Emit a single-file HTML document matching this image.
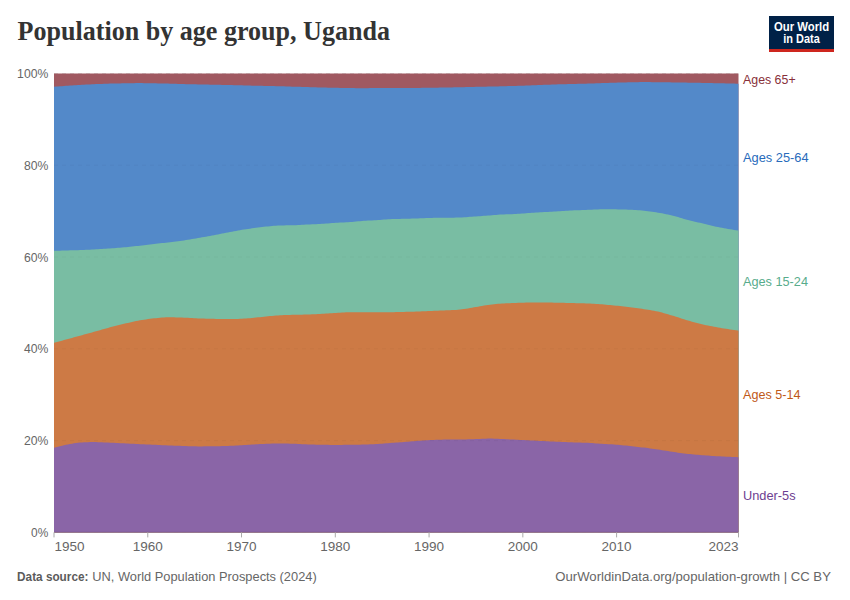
<!DOCTYPE html>
<html><head><meta charset="utf-8">
<style>
html,body{margin:0;padding:0;background:#fff;width:850px;height:600px;overflow:hidden}
svg{display:block}
</style></head><body>
<svg width="850" height="600" viewBox="0 0 850 600" font-family="Liberation Sans, sans-serif">
<rect width="850" height="600" fill="#fff"/>
<text x="17.5" y="39.9" font-family="Liberation Serif, serif" font-weight="bold" font-size="27.8" fill="#333" textLength="372.5" lengthAdjust="spacingAndGlyphs">Population by age group, Uganda</text>
<rect x="769" y="16" width="65" height="36" fill="#002147"/>
<rect x="769" y="49" width="65" height="3" fill="#CE261E"/>
<text x="774" y="30.7" font-size="12" font-weight="bold" fill="#fff" textLength="55.2" lengthAdjust="spacingAndGlyphs">Our World</text>
<text x="783.3" y="42.7" font-size="12" font-weight="bold" fill="#fff" textLength="36.5" lengthAdjust="spacingAndGlyphs">in Data</text>
<line x1="54.0" x2="738.5" y1="532.40" y2="532.40" stroke="#ddd" stroke-dasharray="4,4" stroke-width="1"/>
<line x1="54.0" x2="738.5" y1="440.62" y2="440.62" stroke="#ddd" stroke-dasharray="4,4" stroke-width="1"/>
<line x1="54.0" x2="738.5" y1="348.84" y2="348.84" stroke="#ddd" stroke-dasharray="4,4" stroke-width="1"/>
<line x1="54.0" x2="738.5" y1="257.06" y2="257.06" stroke="#ddd" stroke-dasharray="4,4" stroke-width="1"/>
<line x1="54.0" x2="738.5" y1="165.28" y2="165.28" stroke="#ddd" stroke-dasharray="4,4" stroke-width="1"/>
<line x1="54.0" x2="738.5" y1="73.50" y2="73.50" stroke="#ddd" stroke-dasharray="4,4" stroke-width="1"/>
<path d="M54.0,73.50 L738.5,73.50 L738.5,532.40 L54.0,532.40 Z" fill="#a05961"/>
<path d="M54.0,86.70 L56.0,86.56 L58.0,86.41 L60.0,86.27 L62.0,86.13 L64.0,85.98 L66.0,85.84 L68.0,85.71 L70.0,85.57 L72.0,85.44 L74.0,85.31 L76.0,85.18 L78.0,85.05 L80.0,84.93 L82.0,84.81 L84.0,84.70 L86.0,84.59 L88.0,84.49 L90.0,84.39 L92.0,84.30 L94.0,84.20 L96.0,84.12 L98.0,84.03 L100.0,83.95 L102.0,83.88 L104.0,83.81 L106.0,83.74 L108.0,83.67 L110.0,83.61 L112.0,83.56 L114.0,83.51 L116.0,83.46 L118.0,83.42 L120.0,83.38 L122.0,83.35 L124.0,83.31 L126.0,83.27 L128.0,83.24 L130.0,83.20 L132.0,83.16 L134.0,83.13 L136.0,83.11 L138.0,83.10 L140.0,83.10 L142.0,83.12 L144.0,83.14 L146.0,83.17 L148.0,83.21 L150.0,83.25 L152.0,83.28 L154.0,83.32 L156.0,83.36 L158.0,83.39 L160.0,83.43 L162.0,83.47 L164.0,83.51 L166.0,83.56 L168.0,83.60 L170.0,83.65 L172.0,83.70 L174.0,83.76 L176.0,83.82 L178.0,83.90 L180.0,83.97 L182.0,84.04 L184.0,84.10 L186.0,84.15 L188.0,84.19 L190.0,84.24 L192.0,84.28 L194.0,84.32 L196.0,84.35 L198.0,84.40 L200.0,84.44 L202.0,84.48 L204.0,84.52 L206.0,84.56 L208.0,84.61 L210.0,84.65 L212.0,84.69 L214.0,84.73 L216.0,84.78 L218.0,84.82 L220.0,84.86 L222.0,84.90 L224.0,84.95 L226.0,84.99 L228.0,85.03 L230.0,85.07 L232.0,85.11 L234.0,85.15 L236.0,85.19 L238.0,85.24 L240.0,85.29 L242.0,85.34 L244.0,85.39 L246.0,85.45 L248.0,85.51 L250.0,85.57 L252.0,85.63 L254.0,85.68 L256.0,85.73 L258.0,85.78 L260.0,85.82 L262.0,85.86 L264.0,85.90 L266.0,85.94 L268.0,85.98 L270.0,86.03 L272.0,86.07 L274.0,86.12 L276.0,86.17 L278.0,86.22 L280.0,86.27 L282.0,86.32 L284.0,86.37 L286.0,86.43 L288.0,86.49 L290.0,86.56 L292.0,86.63 L294.0,86.70 L296.0,86.76 L298.0,86.81 L300.0,86.87 L302.0,86.93 L304.0,86.98 L306.0,87.04 L308.0,87.09 L310.0,87.15 L312.0,87.21 L314.0,87.27 L316.0,87.33 L318.0,87.38 L320.0,87.44 L322.0,87.49 L324.0,87.54 L326.0,87.58 L328.0,87.63 L330.0,87.67 L332.0,87.71 L334.0,87.75 L336.0,87.79 L338.0,87.83 L340.0,87.88 L342.0,87.94 L344.0,87.99 L346.0,88.03 L348.0,88.07 L350.0,88.10 L352.0,88.11 L354.0,88.12 L356.0,88.13 L358.0,88.13 L360.0,88.13 L362.0,88.13 L364.0,88.13 L366.0,88.13 L368.0,88.13 L370.0,88.12 L372.0,88.12 L374.0,88.11 L376.0,88.11 L378.0,88.10 L380.0,88.10 L382.0,88.09 L384.0,88.08 L386.0,88.08 L388.0,88.07 L390.0,88.06 L392.0,88.04 L394.0,88.03 L396.0,88.02 L398.0,88.01 L400.0,88.00 L402.0,87.99 L404.0,87.98 L406.0,87.98 L408.0,87.97 L410.0,87.96 L412.0,87.95 L414.0,87.94 L416.0,87.92 L418.0,87.90 L420.0,87.88 L422.0,87.86 L424.0,87.83 L426.0,87.81 L428.0,87.78 L430.0,87.76 L432.0,87.73 L434.0,87.70 L436.0,87.67 L438.0,87.64 L440.0,87.61 L442.0,87.58 L444.0,87.54 L446.0,87.51 L448.0,87.47 L450.0,87.44 L452.0,87.40 L454.0,87.36 L456.0,87.31 L458.0,87.27 L460.0,87.23 L462.0,87.19 L464.0,87.14 L466.0,87.10 L468.0,87.05 L470.0,87.01 L472.0,86.96 L474.0,86.92 L476.0,86.87 L478.0,86.83 L480.0,86.78 L482.0,86.74 L484.0,86.70 L486.0,86.65 L488.0,86.61 L490.0,86.56 L492.0,86.52 L494.0,86.47 L496.0,86.42 L498.0,86.38 L500.0,86.33 L502.0,86.28 L504.0,86.23 L506.0,86.17 L508.0,86.12 L510.0,86.07 L512.0,86.01 L514.0,85.95 L516.0,85.89 L518.0,85.83 L520.0,85.77 L522.0,85.71 L524.0,85.64 L526.0,85.58 L528.0,85.51 L530.0,85.44 L532.0,85.36 L534.0,85.28 L536.0,85.20 L538.0,85.12 L540.0,85.04 L542.0,84.95 L544.0,84.87 L546.0,84.79 L548.0,84.71 L550.0,84.63 L552.0,84.55 L554.0,84.48 L556.0,84.42 L558.0,84.35 L560.0,84.30 L562.0,84.24 L564.0,84.19 L566.0,84.14 L568.0,84.10 L570.0,84.05 L572.0,84.01 L574.0,83.97 L576.0,83.92 L578.0,83.87 L580.0,83.83 L582.0,83.77 L584.0,83.72 L586.0,83.66 L588.0,83.60 L590.0,83.54 L592.0,83.47 L594.0,83.40 L596.0,83.33 L598.0,83.26 L600.0,83.19 L602.0,83.12 L604.0,83.05 L606.0,82.98 L608.0,82.92 L610.0,82.85 L612.0,82.79 L614.0,82.73 L616.0,82.67 L618.0,82.61 L620.0,82.55 L622.0,82.49 L624.0,82.44 L626.0,82.38 L628.0,82.32 L630.0,82.27 L632.0,82.23 L634.0,82.19 L636.0,82.15 L638.0,82.13 L640.0,82.11 L642.0,82.10 L644.0,82.09 L646.0,82.09 L648.0,82.10 L650.0,82.11 L652.0,82.13 L654.0,82.15 L656.0,82.17 L658.0,82.20 L660.0,82.23 L662.0,82.25 L664.0,82.28 L666.0,82.31 L668.0,82.34 L670.0,82.37 L672.0,82.40 L674.0,82.42 L676.0,82.45 L678.0,82.48 L680.0,82.51 L682.0,82.54 L684.0,82.57 L686.0,82.60 L688.0,82.63 L690.0,82.66 L692.0,82.70 L694.0,82.73 L696.0,82.77 L698.0,82.80 L700.0,82.84 L702.0,82.88 L704.0,82.92 L706.0,82.96 L708.0,83.00 L710.0,83.04 L712.0,83.08 L714.0,83.13 L716.0,83.17 L718.0,83.22 L720.0,83.27 L722.0,83.31 L724.0,83.36 L726.0,83.41 L728.0,83.46 L730.0,83.50 L732.0,83.55 L734.0,83.60 L736.0,83.64 L738.0,83.69 L738.5,83.70 L738.5,532.40 L54.0,532.40 Z" fill="#5389c9"/>
<path d="M54.0,250.80 L56.0,250.74 L58.0,250.69 L60.0,250.63 L62.0,250.57 L64.0,250.52 L66.0,250.46 L68.0,250.40 L70.0,250.35 L72.0,250.30 L74.0,250.25 L76.0,250.20 L78.0,250.14 L80.0,250.08 L82.0,250.01 L84.0,249.93 L86.0,249.84 L88.0,249.75 L90.0,249.65 L92.0,249.54 L94.0,249.43 L96.0,249.32 L98.0,249.21 L100.0,249.09 L102.0,248.97 L104.0,248.84 L106.0,248.71 L108.0,248.57 L110.0,248.44 L112.0,248.29 L114.0,248.15 L116.0,248.00 L118.0,247.85 L120.0,247.70 L122.0,247.53 L124.0,247.35 L126.0,247.17 L128.0,246.97 L130.0,246.76 L132.0,246.55 L134.0,246.33 L136.0,246.10 L138.0,245.88 L140.0,245.65 L142.0,245.42 L144.0,245.17 L146.0,244.93 L148.0,244.68 L150.0,244.44 L152.0,244.20 L154.0,243.97 L156.0,243.75 L158.0,243.53 L160.0,243.31 L162.0,243.10 L164.0,242.88 L166.0,242.66 L168.0,242.43 L170.0,242.20 L172.0,241.96 L174.0,241.73 L176.0,241.48 L178.0,241.23 L180.0,240.97 L182.0,240.70 L184.0,240.41 L186.0,240.11 L188.0,239.78 L190.0,239.44 L192.0,239.09 L194.0,238.74 L196.0,238.39 L198.0,238.03 L200.0,237.69 L202.0,237.35 L204.0,237.00 L206.0,236.65 L208.0,236.30 L210.0,235.94 L212.0,235.57 L214.0,235.20 L216.0,234.80 L218.0,234.40 L220.0,234.00 L222.0,233.59 L224.0,233.19 L226.0,232.80 L228.0,232.41 L230.0,232.03 L232.0,231.65 L234.0,231.27 L236.0,230.90 L238.0,230.55 L240.0,230.20 L242.0,229.87 L244.0,229.55 L246.0,229.24 L248.0,228.94 L250.0,228.65 L252.0,228.37 L254.0,228.09 L256.0,227.83 L258.0,227.56 L260.0,227.31 L262.0,227.06 L264.0,226.83 L266.0,226.60 L268.0,226.39 L270.0,226.19 L272.0,226.02 L274.0,225.86 L276.0,225.72 L278.0,225.60 L280.0,225.50 L282.0,225.43 L284.0,225.38 L286.0,225.35 L288.0,225.32 L290.0,225.30 L292.0,225.26 L294.0,225.20 L296.0,225.13 L298.0,225.04 L300.0,224.94 L302.0,224.83 L304.0,224.72 L306.0,224.61 L308.0,224.51 L310.0,224.41 L312.0,224.32 L314.0,224.23 L316.0,224.14 L318.0,224.04 L320.0,223.94 L322.0,223.82 L324.0,223.70 L326.0,223.56 L328.0,223.42 L330.0,223.27 L332.0,223.11 L334.0,222.97 L336.0,222.83 L338.0,222.71 L340.0,222.60 L342.0,222.49 L344.0,222.39 L346.0,222.28 L348.0,222.17 L350.0,222.04 L352.0,221.90 L354.0,221.73 L356.0,221.55 L358.0,221.37 L360.0,221.18 L362.0,221.01 L364.0,220.85 L366.0,220.71 L368.0,220.59 L370.0,220.48 L372.0,220.38 L374.0,220.27 L376.0,220.17 L378.0,220.06 L380.0,219.93 L382.0,219.78 L384.0,219.61 L386.0,219.46 L388.0,219.31 L390.0,219.20 L392.0,219.11 L394.0,219.05 L396.0,218.99 L398.0,218.94 L400.0,218.90 L402.0,218.85 L404.0,218.80 L406.0,218.75 L408.0,218.69 L410.0,218.64 L412.0,218.58 L414.0,218.53 L416.0,218.47 L418.0,218.41 L420.0,218.34 L422.0,218.27 L424.0,218.19 L426.0,218.11 L428.0,218.04 L430.0,217.97 L432.0,217.91 L434.0,217.86 L436.0,217.83 L438.0,217.80 L440.0,217.78 L442.0,217.75 L444.0,217.73 L446.0,217.71 L448.0,217.68 L450.0,217.67 L452.0,217.66 L454.0,217.65 L456.0,217.62 L458.0,217.59 L460.0,217.52 L462.0,217.43 L464.0,217.31 L466.0,217.18 L468.0,217.02 L470.0,216.86 L472.0,216.70 L474.0,216.55 L476.0,216.41 L478.0,216.27 L480.0,216.13 L482.0,215.99 L484.0,215.85 L486.0,215.71 L488.0,215.57 L490.0,215.41 L492.0,215.24 L494.0,215.06 L496.0,214.89 L498.0,214.73 L500.0,214.60 L502.0,214.50 L504.0,214.43 L506.0,214.37 L508.0,214.32 L510.0,214.26 L512.0,214.20 L514.0,214.11 L516.0,213.99 L518.0,213.86 L520.0,213.71 L522.0,213.56 L524.0,213.41 L526.0,213.26 L528.0,213.11 L530.0,212.98 L532.0,212.85 L534.0,212.72 L536.0,212.59 L538.0,212.47 L540.0,212.35 L542.0,212.22 L544.0,212.11 L546.0,211.99 L548.0,211.88 L550.0,211.77 L552.0,211.66 L554.0,211.55 L556.0,211.43 L558.0,211.31 L560.0,211.17 L562.0,211.04 L564.0,210.90 L566.0,210.77 L568.0,210.64 L570.0,210.53 L572.0,210.43 L574.0,210.35 L576.0,210.28 L578.0,210.22 L580.0,210.16 L582.0,210.10 L584.0,210.03 L586.0,209.95 L588.0,209.86 L590.0,209.76 L592.0,209.67 L594.0,209.58 L596.0,209.49 L598.0,209.43 L600.0,209.37 L602.0,209.34 L604.0,209.31 L606.0,209.29 L608.0,209.29 L610.0,209.29 L612.0,209.30 L614.0,209.32 L616.0,209.35 L618.0,209.38 L620.0,209.43 L622.0,209.48 L624.0,209.55 L626.0,209.62 L628.0,209.69 L630.0,209.77 L632.0,209.84 L634.0,209.93 L636.0,210.04 L638.0,210.16 L640.0,210.31 L642.0,210.49 L644.0,210.69 L646.0,210.91 L648.0,211.15 L650.0,211.41 L652.0,211.69 L654.0,211.99 L656.0,212.30 L658.0,212.63 L660.0,212.98 L662.0,213.35 L664.0,213.73 L666.0,214.13 L668.0,214.56 L670.0,215.01 L672.0,215.48 L674.0,215.98 L676.0,216.53 L678.0,217.11 L680.0,217.71 L682.0,218.31 L684.0,218.90 L686.0,219.47 L688.0,220.00 L690.0,220.51 L692.0,221.00 L694.0,221.47 L696.0,221.94 L698.0,222.40 L700.0,222.86 L702.0,223.32 L704.0,223.79 L706.0,224.27 L708.0,224.75 L710.0,225.24 L712.0,225.72 L714.0,226.18 L716.0,226.63 L718.0,227.06 L720.0,227.46 L722.0,227.84 L724.0,228.21 L726.0,228.56 L728.0,228.91 L730.0,229.25 L732.0,229.59 L734.0,229.92 L736.0,230.26 L738.0,230.61 L738.5,230.70 L738.5,532.40 L54.0,532.40 Z" fill="#79bda3"/>
<path d="M54.0,342.80 L56.0,342.26 L58.0,341.72 L60.0,341.19 L62.0,340.65 L64.0,340.11 L66.0,339.57 L68.0,339.03 L70.0,338.48 L72.0,337.93 L74.0,337.37 L76.0,336.82 L78.0,336.26 L80.0,335.71 L82.0,335.16 L84.0,334.61 L86.0,334.06 L88.0,333.51 L90.0,332.96 L92.0,332.42 L94.0,331.87 L96.0,331.31 L98.0,330.75 L100.0,330.18 L102.0,329.60 L104.0,329.02 L106.0,328.44 L108.0,327.88 L110.0,327.33 L112.0,326.80 L114.0,326.29 L116.0,325.78 L118.0,325.28 L120.0,324.79 L122.0,324.31 L124.0,323.84 L126.0,323.37 L128.0,322.90 L130.0,322.44 L132.0,321.98 L134.0,321.54 L136.0,321.12 L138.0,320.73 L140.0,320.37 L142.0,320.02 L144.0,319.70 L146.0,319.40 L148.0,319.12 L150.0,318.85 L152.0,318.61 L154.0,318.37 L156.0,318.15 L158.0,317.93 L160.0,317.74 L162.0,317.57 L164.0,317.43 L166.0,317.33 L168.0,317.28 L170.0,317.27 L172.0,317.28 L174.0,317.32 L176.0,317.38 L178.0,317.46 L180.0,317.54 L182.0,317.62 L184.0,317.70 L186.0,317.78 L188.0,317.87 L190.0,317.98 L192.0,318.09 L194.0,318.20 L196.0,318.30 L198.0,318.39 L200.0,318.47 L202.0,318.53 L204.0,318.59 L206.0,318.64 L208.0,318.69 L210.0,318.74 L212.0,318.79 L214.0,318.84 L216.0,318.90 L218.0,318.95 L220.0,319.01 L222.0,319.05 L224.0,319.08 L226.0,319.10 L228.0,319.10 L230.0,319.09 L232.0,319.06 L234.0,319.03 L236.0,318.98 L238.0,318.91 L240.0,318.83 L242.0,318.72 L244.0,318.60 L246.0,318.45 L248.0,318.30 L250.0,318.13 L252.0,317.95 L254.0,317.76 L256.0,317.58 L258.0,317.37 L260.0,317.16 L262.0,316.93 L264.0,316.71 L266.0,316.49 L268.0,316.29 L270.0,316.10 L272.0,315.91 L274.0,315.73 L276.0,315.57 L278.0,315.42 L280.0,315.30 L282.0,315.20 L284.0,315.11 L286.0,315.04 L288.0,314.97 L290.0,314.91 L292.0,314.86 L294.0,314.80 L296.0,314.75 L298.0,314.71 L300.0,314.68 L302.0,314.65 L304.0,314.61 L306.0,314.57 L308.0,314.51 L310.0,314.43 L312.0,314.35 L314.0,314.25 L316.0,314.15 L318.0,314.05 L320.0,313.94 L322.0,313.82 L324.0,313.71 L326.0,313.58 L328.0,313.45 L330.0,313.31 L332.0,313.18 L334.0,313.05 L336.0,312.93 L338.0,312.81 L340.0,312.70 L342.0,312.58 L344.0,312.47 L346.0,312.37 L348.0,312.28 L350.0,312.22 L352.0,312.17 L354.0,312.15 L356.0,312.14 L358.0,312.15 L360.0,312.17 L362.0,312.18 L364.0,312.20 L366.0,312.21 L368.0,312.22 L370.0,312.24 L372.0,312.26 L374.0,312.28 L376.0,312.29 L378.0,312.30 L380.0,312.30 L382.0,312.29 L384.0,312.28 L386.0,312.26 L388.0,312.23 L390.0,312.20 L392.0,312.17 L394.0,312.13 L396.0,312.09 L398.0,312.04 L400.0,312.00 L402.0,311.95 L404.0,311.90 L406.0,311.85 L408.0,311.80 L410.0,311.75 L412.0,311.69 L414.0,311.64 L416.0,311.57 L418.0,311.51 L420.0,311.43 L422.0,311.35 L424.0,311.27 L426.0,311.18 L428.0,311.09 L430.0,311.00 L432.0,310.92 L434.0,310.83 L436.0,310.75 L438.0,310.67 L440.0,310.59 L442.0,310.51 L444.0,310.42 L446.0,310.32 L448.0,310.23 L450.0,310.15 L452.0,310.07 L454.0,309.99 L456.0,309.88 L458.0,309.74 L460.0,309.56 L462.0,309.33 L464.0,309.05 L466.0,308.73 L468.0,308.39 L470.0,308.03 L472.0,307.67 L474.0,307.32 L476.0,306.98 L478.0,306.63 L480.0,306.27 L482.0,305.92 L484.0,305.57 L486.0,305.24 L488.0,304.93 L490.0,304.65 L492.0,304.41 L494.0,304.20 L496.0,304.01 L498.0,303.85 L500.0,303.70 L502.0,303.57 L504.0,303.45 L506.0,303.34 L508.0,303.25 L510.0,303.16 L512.0,303.08 L514.0,303.00 L516.0,302.93 L518.0,302.86 L520.0,302.78 L522.0,302.71 L524.0,302.64 L526.0,302.58 L528.0,302.53 L530.0,302.48 L532.0,302.44 L534.0,302.41 L536.0,302.40 L538.0,302.39 L540.0,302.40 L542.0,302.42 L544.0,302.45 L546.0,302.49 L548.0,302.53 L550.0,302.57 L552.0,302.61 L554.0,302.65 L556.0,302.69 L558.0,302.73 L560.0,302.76 L562.0,302.80 L564.0,302.85 L566.0,302.89 L568.0,302.94 L570.0,302.99 L572.0,303.03 L574.0,303.08 L576.0,303.13 L578.0,303.18 L580.0,303.24 L582.0,303.30 L584.0,303.37 L586.0,303.45 L588.0,303.53 L590.0,303.62 L592.0,303.71 L594.0,303.81 L596.0,303.92 L598.0,304.04 L600.0,304.18 L602.0,304.34 L604.0,304.52 L606.0,304.71 L608.0,304.91 L610.0,305.10 L612.0,305.28 L614.0,305.47 L616.0,305.65 L618.0,305.83 L620.0,306.02 L622.0,306.22 L624.0,306.43 L626.0,306.66 L628.0,306.90 L630.0,307.15 L632.0,307.41 L634.0,307.69 L636.0,307.97 L638.0,308.25 L640.0,308.55 L642.0,308.85 L644.0,309.15 L646.0,309.44 L648.0,309.74 L650.0,310.06 L652.0,310.40 L654.0,310.77 L656.0,311.17 L658.0,311.62 L660.0,312.10 L662.0,312.62 L664.0,313.16 L666.0,313.72 L668.0,314.30 L670.0,314.88 L672.0,315.47 L674.0,316.07 L676.0,316.70 L678.0,317.35 L680.0,318.01 L682.0,318.66 L684.0,319.30 L686.0,319.93 L688.0,320.52 L690.0,321.09 L692.0,321.64 L694.0,322.19 L696.0,322.72 L698.0,323.24 L700.0,323.74 L702.0,324.22 L704.0,324.68 L706.0,325.13 L708.0,325.56 L710.0,325.97 L712.0,326.36 L714.0,326.75 L716.0,327.12 L718.0,327.48 L720.0,327.83 L722.0,328.16 L724.0,328.48 L726.0,328.80 L728.0,329.11 L730.0,329.41 L732.0,329.71 L734.0,330.01 L736.0,330.31 L738.0,330.62 L738.5,330.70 L738.5,532.40 L54.0,532.40 Z" fill="#cd7a45"/>
<path d="M54.0,447.70 L56.0,447.21 L58.0,446.72 L60.0,446.24 L62.0,445.77 L64.0,445.30 L66.0,444.85 L68.0,444.42 L70.0,444.02 L72.0,443.63 L74.0,443.28 L76.0,442.99 L78.0,442.76 L80.0,442.57 L82.0,442.41 L84.0,442.29 L86.0,442.20 L88.0,442.13 L90.0,442.09 L92.0,442.06 L94.0,442.06 L96.0,442.09 L98.0,442.15 L100.0,442.22 L102.0,442.30 L104.0,442.39 L106.0,442.49 L108.0,442.58 L110.0,442.68 L112.0,442.77 L114.0,442.87 L116.0,442.97 L118.0,443.07 L120.0,443.17 L122.0,443.27 L124.0,443.37 L126.0,443.47 L128.0,443.57 L130.0,443.67 L132.0,443.77 L134.0,443.87 L136.0,443.97 L138.0,444.07 L140.0,444.16 L142.0,444.25 L144.0,444.33 L146.0,444.41 L148.0,444.49 L150.0,444.57 L152.0,444.66 L154.0,444.75 L156.0,444.84 L158.0,444.94 L160.0,445.04 L162.0,445.13 L164.0,445.23 L166.0,445.32 L168.0,445.41 L170.0,445.50 L172.0,445.58 L174.0,445.66 L176.0,445.73 L178.0,445.80 L180.0,445.87 L182.0,445.93 L184.0,446.00 L186.0,446.06 L188.0,446.13 L190.0,446.21 L192.0,446.27 L194.0,446.33 L196.0,446.37 L198.0,446.40 L200.0,446.40 L202.0,446.39 L204.0,446.36 L206.0,446.32 L208.0,446.28 L210.0,446.24 L212.0,446.21 L214.0,446.18 L216.0,446.16 L218.0,446.14 L220.0,446.13 L222.0,446.10 L224.0,446.07 L226.0,446.02 L228.0,445.95 L230.0,445.87 L232.0,445.77 L234.0,445.67 L236.0,445.56 L238.0,445.45 L240.0,445.33 L242.0,445.22 L244.0,445.09 L246.0,444.96 L248.0,444.83 L250.0,444.69 L252.0,444.56 L254.0,444.44 L256.0,444.33 L258.0,444.22 L260.0,444.11 L262.0,444.01 L264.0,443.91 L266.0,443.82 L268.0,443.74 L270.0,443.66 L272.0,443.58 L274.0,443.50 L276.0,443.45 L278.0,443.41 L280.0,443.40 L282.0,443.42 L284.0,443.46 L286.0,443.51 L288.0,443.58 L290.0,443.65 L292.0,443.72 L294.0,443.80 L296.0,443.87 L298.0,443.96 L300.0,444.05 L302.0,444.14 L304.0,444.23 L306.0,444.32 L308.0,444.39 L310.0,444.46 L312.0,444.53 L314.0,444.59 L316.0,444.65 L318.0,444.70 L320.0,444.75 L322.0,444.79 L324.0,444.83 L326.0,444.85 L328.0,444.87 L330.0,444.88 L332.0,444.89 L334.0,444.90 L336.0,444.90 L338.0,444.90 L340.0,444.89 L342.0,444.88 L344.0,444.87 L346.0,444.85 L348.0,444.83 L350.0,444.81 L352.0,444.78 L354.0,444.75 L356.0,444.72 L358.0,444.68 L360.0,444.63 L362.0,444.58 L364.0,444.52 L366.0,444.45 L368.0,444.38 L370.0,444.30 L372.0,444.22 L374.0,444.13 L376.0,444.03 L378.0,443.92 L380.0,443.80 L382.0,443.67 L384.0,443.52 L386.0,443.36 L388.0,443.19 L390.0,443.02 L392.0,442.86 L394.0,442.70 L396.0,442.55 L398.0,442.41 L400.0,442.27 L402.0,442.14 L404.0,442.00 L406.0,441.85 L408.0,441.70 L410.0,441.54 L412.0,441.37 L414.0,441.19 L416.0,441.01 L418.0,440.84 L420.0,440.67 L422.0,440.53 L424.0,440.40 L426.0,440.28 L428.0,440.17 L430.0,440.07 L432.0,439.98 L434.0,439.89 L436.0,439.82 L438.0,439.75 L440.0,439.69 L442.0,439.64 L444.0,439.60 L446.0,439.57 L448.0,439.54 L450.0,439.51 L452.0,439.48 L454.0,439.47 L456.0,439.46 L458.0,439.46 L460.0,439.45 L462.0,439.43 L464.0,439.41 L466.0,439.38 L468.0,439.33 L470.0,439.28 L472.0,439.22 L474.0,439.16 L476.0,439.10 L478.0,439.03 L480.0,438.96 L482.0,438.87 L484.0,438.78 L486.0,438.68 L488.0,438.62 L490.0,438.60 L492.0,438.62 L494.0,438.67 L496.0,438.74 L498.0,438.83 L500.0,438.92 L502.0,439.01 L504.0,439.10 L506.0,439.19 L508.0,439.28 L510.0,439.38 L512.0,439.48 L514.0,439.59 L516.0,439.69 L518.0,439.79 L520.0,439.89 L522.0,439.99 L524.0,440.09 L526.0,440.18 L528.0,440.28 L530.0,440.38 L532.0,440.48 L534.0,440.58 L536.0,440.68 L538.0,440.78 L540.0,440.88 L542.0,440.98 L544.0,441.08 L546.0,441.18 L548.0,441.28 L550.0,441.38 L552.0,441.48 L554.0,441.59 L556.0,441.69 L558.0,441.78 L560.0,441.87 L562.0,441.96 L564.0,442.03 L566.0,442.11 L568.0,442.17 L570.0,442.24 L572.0,442.31 L574.0,442.38 L576.0,442.44 L578.0,442.51 L580.0,442.57 L582.0,442.63 L584.0,442.70 L586.0,442.77 L588.0,442.86 L590.0,442.97 L592.0,443.10 L594.0,443.25 L596.0,443.41 L598.0,443.56 L600.0,443.70 L602.0,443.82 L604.0,443.93 L606.0,444.04 L608.0,444.15 L610.0,444.26 L612.0,444.37 L614.0,444.50 L616.0,444.64 L618.0,444.81 L620.0,444.99 L622.0,445.18 L624.0,445.38 L626.0,445.59 L628.0,445.80 L630.0,446.02 L632.0,446.24 L634.0,446.47 L636.0,446.69 L638.0,446.92 L640.0,447.15 L642.0,447.38 L644.0,447.62 L646.0,447.87 L648.0,448.12 L650.0,448.39 L652.0,448.66 L654.0,448.95 L656.0,449.25 L658.0,449.55 L660.0,449.86 L662.0,450.17 L664.0,450.47 L666.0,450.78 L668.0,451.08 L670.0,451.39 L672.0,451.71 L674.0,452.03 L676.0,452.34 L678.0,452.64 L680.0,452.93 L682.0,453.21 L684.0,453.46 L686.0,453.69 L688.0,453.91 L690.0,454.11 L692.0,454.30 L694.0,454.47 L696.0,454.65 L698.0,454.82 L700.0,454.98 L702.0,455.15 L704.0,455.31 L706.0,455.47 L708.0,455.61 L710.0,455.76 L712.0,455.90 L714.0,456.03 L716.0,456.15 L718.0,456.26 L720.0,456.37 L722.0,456.47 L724.0,456.56 L726.0,456.66 L728.0,456.74 L730.0,456.83 L732.0,456.91 L734.0,457.00 L736.0,457.09 L738.0,457.18 L738.5,457.20 L738.5,532.40 L54.0,532.40 Z" fill="#8a65a7"/>
<line x1="54.0" x2="738.5" y1="440.62" y2="440.62" stroke="#000" stroke-opacity="0.035" stroke-dasharray="4,4" stroke-width="1"/>
<line x1="54.0" x2="738.5" y1="348.84" y2="348.84" stroke="#000" stroke-opacity="0.035" stroke-dasharray="4,4" stroke-width="1"/>
<line x1="54.0" x2="738.5" y1="257.06" y2="257.06" stroke="#000" stroke-opacity="0.035" stroke-dasharray="4,4" stroke-width="1"/>
<line x1="54.0" x2="738.5" y1="165.28" y2="165.28" stroke="#000" stroke-opacity="0.035" stroke-dasharray="4,4" stroke-width="1"/>
<line x1="54.0" x2="738.5" y1="531.9" y2="531.9" stroke="#000" stroke-opacity="0.06" stroke-width="1"/>
<line x1="54.00" x2="54.00" y1="532.4" y2="537.4" stroke="#aaa" stroke-width="1"/>
<line x1="147.77" x2="147.77" y1="532.4" y2="537.4" stroke="#aaa" stroke-width="1"/>
<line x1="241.53" x2="241.53" y1="532.4" y2="537.4" stroke="#aaa" stroke-width="1"/>
<line x1="335.30" x2="335.30" y1="532.4" y2="537.4" stroke="#aaa" stroke-width="1"/>
<line x1="429.07" x2="429.07" y1="532.4" y2="537.4" stroke="#aaa" stroke-width="1"/>
<line x1="522.84" x2="522.84" y1="532.4" y2="537.4" stroke="#aaa" stroke-width="1"/>
<line x1="616.60" x2="616.60" y1="532.4" y2="537.4" stroke="#aaa" stroke-width="1"/>
<line x1="738.50" x2="738.50" y1="532.4" y2="537.4" stroke="#aaa" stroke-width="1"/>
<g font-size="13.5" fill="#666">
<text x="31.1" y="537.0" textLength="17.2" lengthAdjust="spacingAndGlyphs">0%</text>
<text x="23.9" y="445.2" textLength="24.4" lengthAdjust="spacingAndGlyphs">20%</text>
<text x="23.9" y="353.4" textLength="24.4" lengthAdjust="spacingAndGlyphs">40%</text>
<text x="23.9" y="261.7" textLength="24.4" lengthAdjust="spacingAndGlyphs">60%</text>
<text x="23.9" y="169.9" textLength="24.4" lengthAdjust="spacingAndGlyphs">80%</text>
<text x="17.1" y="78.1" textLength="31.2" lengthAdjust="spacingAndGlyphs">100%</text>
</g>
<g font-size="13.5" fill="#666">
<text x="54.5" y="550.5" text-anchor="start">1950</text>
<text x="147.8" y="550.5" text-anchor="middle">1960</text>
<text x="241.5" y="550.5" text-anchor="middle">1970</text>
<text x="335.3" y="550.5" text-anchor="middle">1980</text>
<text x="429.1" y="550.5" text-anchor="middle">1990</text>
<text x="522.8" y="550.5" text-anchor="middle">2000</text>
<text x="616.6" y="550.5" text-anchor="middle">2010</text>
<text x="738.5" y="550.5" text-anchor="end">2023</text>
</g>
<text x="743" y="84" font-size="13.5" fill="#883039" textLength="52.6" lengthAdjust="spacingAndGlyphs">Ages 65+</text>
<text x="743" y="162.4" font-size="13.5" fill="#286BBB" textLength="65.6" lengthAdjust="spacingAndGlyphs">Ages 25-64</text>
<text x="743" y="285.6" font-size="13.5" fill="#58AC8C" textLength="65" lengthAdjust="spacingAndGlyphs">Ages 15-24</text>
<text x="743" y="399.1" font-size="13.5" fill="#C05917" textLength="57.6" lengthAdjust="spacingAndGlyphs">Ages 5-14</text>
<text x="743" y="499.7" font-size="13.5" fill="#6D3E91" textLength="52.6" lengthAdjust="spacingAndGlyphs">Under-5s</text>
<text x="17.1" y="580.5" font-size="13" font-weight="bold" fill="#5b5b5b" textLength="71.3" lengthAdjust="spacingAndGlyphs">Data source:</text>
<text x="92.3" y="580.5" font-size="13" fill="#666" textLength="224.4" lengthAdjust="spacingAndGlyphs">UN, World Population Prospects (2024)</text>
<text x="555.3" y="580.5" font-size="13" fill="#666" textLength="275.6" lengthAdjust="spacingAndGlyphs">OurWorldinData.org/population-growth | CC BY</text>
</svg>
</body></html>
